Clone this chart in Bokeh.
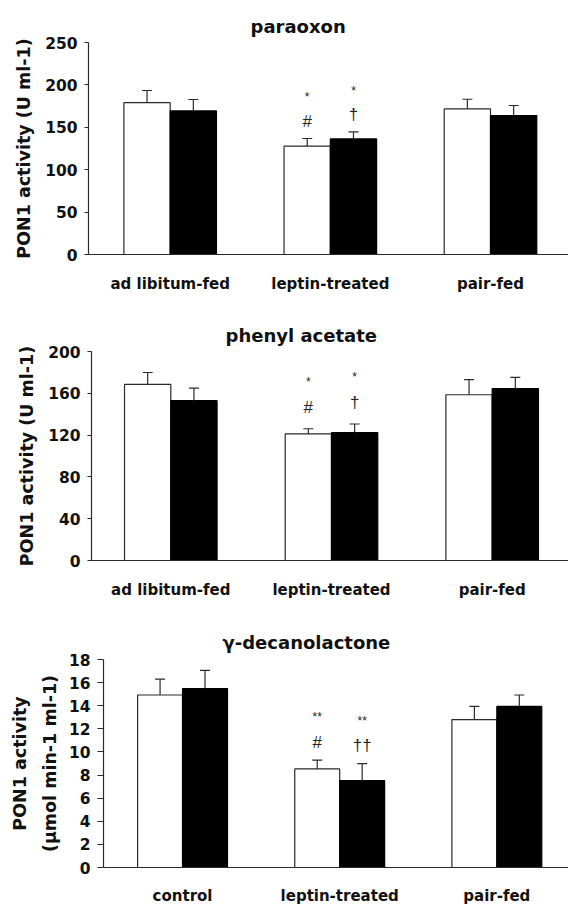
import numpy as np
from bokeh.plotting import figure
from bokeh.models import ColumnDataSource, Range1d, FixedTicker, Whisker, TeeHead, Title
from bokeh.embed import file_html
from bokeh.resources import INLINE
from bokeh.core.properties import value
from bokeh.transform import dodge

# ---------------- data ----------------
groups_ab = ["ad libitum-fed", "leptin-treated", "pair-fed"]
groups_c = ["control", "leptin-treated", "pair-fed"]

parao_white = [179.0, 127.7, 171.7]
parao_white_se = [14.4, 9.1, 11.4]
parao_black = [169.3, 136.3, 163.9]
parao_black_se = [13.5, 8.3, 11.8]

phenyl_white = [168.5, 121.1, 158.6]
phenyl_white_se = [11.4, 5.0, 14.4]
phenyl_black = [152.9, 122.3, 164.4]
phenyl_black_se = [12.1, 8.3, 10.8]

deca_white = [14.93, 8.53, 12.80]
deca_white_se = [1.37, 0.77, 1.14]
deca_black = [15.48, 7.51, 13.94]
deca_black_se = [1.58, 1.48, 0.99]

ticks_parao = [0, 50, 100, 150, 200, 250]
ticks_phenyl = [0, 40, 80, 120, 160, 200]
ticks_deca = [0, 2, 4, 6, 8, 10, 12, 14, 16, 18]

# significance marks (white bar symbol / star, black bar symbol / star)
sym_white_ab = ["", "#", ""]
star_white_ab = ["", "*", ""]
sym_black_ab = ["", "\u2020", ""]
star_black_ab = ["", "*", ""]
sym_white_c = ["", "#", ""]
star_white_c = ["", "**", ""]
sym_black_c = ["", "\u2020\u2020", ""]
star_black_c = ["", "**", ""]

FONT = "DejaVu Sans"
INK = "#111111"
LINE = "#2a2a2a"


def make_panel(title, cats, white, wse, black, bse, ticks, ylabel,
               sw, stw, sb, stb, height, b_left, b_top, b_bottom,
               x_start, x_end, bw, title_off, title_standoff, sym_off, star_off,
               tick_out, xlab_standoff, ylab_standoff, ylab_size, line_h=1.2):
    x = np.arange(len(cats))
    white = np.array(white)
    black = np.array(black)
    src = ColumnDataSource(dict(
        x=x, white=white, black=black,
        wtop=white + np.array(wse), btop=black + np.array(bse),
        sw=sw, stw=stw, sb=sb, stb=stb,
    ))
    p = figure(width=568, height=height,
               x_range=Range1d(x_start, x_end), y_range=Range1d(0, ticks[-1]),
               output_backend="svg", toolbar_location=None,
               min_border_left=b_left, min_border_right=0,
               min_border_top=b_top, min_border_bottom=b_bottom)
    p.title = Title(text=title, align="left", offset=title_off,
                    standoff=title_standoff, vertical_align="bottom",
                    text_font=FONT, text_font_style="bold",
                    text_font_size="18px", text_color=INK)
    p.outline_line_color = None
    p.grid.visible = False
    p.background_fill_color = "white"

    xw = dodge("x", -bw / 2)
    xb = dodge("x", bw / 2)

    p.add_layout(Whisker(base=xw, upper="wtop", lower="white", source=src,
                         line_color=LINE, line_width=1.2, lower_head=None,
                         upper_head=TeeHead(size=10, line_color=LINE, line_width=1.2),
                         level="overlay"))
    p.add_layout(Whisker(base=xb, upper="btop", lower="black", source=src,
                         line_color=LINE, line_width=1.2, lower_head=None,
                         upper_head=TeeHead(size=10, line_color=LINE, line_width=1.2),
                         level="overlay"))

    p.vbar(x=xw, top="white", bottom=0, width=bw, source=src,
           fill_color="white", line_color=LINE, line_width=1.2)
    p.vbar(x=xb, top="black", bottom=0, width=bw, source=src,
           fill_color="black", line_color="black", line_width=1.2)

    # significance marks
    for xx, col, off, size in ((xw, "sw", sym_off, "17px"), (xb, "sb", sym_off, "17px"),
                               (xw, "stw", star_off, "12px"), (xb, "stb", star_off, "12px")):
        top = "wtop" if xx is xw else "btop"
        p.text(x=xx, y=top, text=col, source=src, y_offset=-off,
               text_font=value("Liberation Sans"), text_font_size=size,
               text_align="center", text_baseline="middle", text_color="#222222")

    # axes
    p.xaxis.ticker = FixedTicker(ticks=[int(v) for v in x])
    p.xaxis.major_label_overrides = {int(i): c for i, c in enumerate(cats)}
    p.xaxis.major_tick_line_color = None
    p.xaxis.minor_tick_line_color = None
    p.xaxis.major_tick_out = 0
    p.xaxis.major_tick_in = 0
    p.xaxis.major_label_standoff = xlab_standoff

    p.yaxis.ticker = FixedTicker(ticks=ticks)
    p.yaxis.minor_tick_line_color = None
    p.yaxis.major_tick_line_color = LINE
    p.yaxis.major_tick_out = tick_out
    p.yaxis.major_tick_in = 0
    p.yaxis.major_label_standoff = 7
    p.yaxis.axis_label = ylabel
    p.yaxis.axis_label_standoff = ylab_standoff
    p.yaxis.axis_label_text_font = FONT
    p.yaxis.axis_label_text_font_style = "bold"
    p.yaxis.axis_label_text_font_size = ylab_size
    p.yaxis.axis_label_text_color = INK
    p.yaxis.axis_label_text_line_height = line_h

    for ax in (p.xaxis, p.yaxis):
        ax.axis_line_color = LINE
        ax.axis_line_width = 1.2
        ax.major_label_text_font = FONT
        ax.major_label_text_font_style = "bold"
        ax.major_label_text_color = INK
    p.xaxis.major_label_text_font_size = "15px"
    p.yaxis.major_label_text_font_size = "15.5px"
    return p


p1 = make_panel("paraoxon", groups_ab, parao_white, parao_white_se,
                parao_black, parao_black_se, ticks_parao, "PON1 activity (U ml-1)",
                sym_white_ab, star_white_ab, sym_black_ab, star_black_ab,
                height=300, b_left=88, b_top=42, b_bottom=46,
                x_start=-0.51, x_end=2.487, bw=0.289,
                title_off=162, title_standoff=12, sym_off=17, star_off=41,
                tick_out=4, xlab_standoff=20, ylab_standoff=8, ylab_size="17.5px")

p2 = make_panel("phenyl acetate", groups_ab, phenyl_white, phenyl_white_se,
                phenyl_black, phenyl_black_se, ticks_phenyl, "PON1 activity (U ml-1)",
                sym_white_ab, star_white_ab, sym_black_ab, star_black_ab,
                height=305, b_left=91, b_top=51, b_bottom=45,
                x_start=-0.4935, x_end=2.475, bw=0.288,
                title_off=134, title_standoff=12, sym_off=21.5, star_off=47,
                tick_out=4, xlab_standoff=20, ylab_standoff=8, ylab_size="17.5px")

p3 = make_panel("\u03b3-decanolactone", groups_c, deca_white, deca_white_se,
                deca_black, deca_black_se, ticks_deca,
                "PON1 activity\n(\u00b5mol min-1 ml-1)",
                sym_white_c, star_white_c, sym_black_c, star_black_c,
                height=302, b_left=103, b_top=54, b_bottom=37,
                x_start=-0.503, x_end=2.456, bw=0.286,
                title_off=119, title_standoff=14, sym_off=18, star_off=43,
                tick_out=6, xlab_standoff=19, ylab_standoff=6, ylab_size="17.5px",
                line_h=1.5)

open("out.html", "w").write(file_html([p1, p2, p3], INLINE))
